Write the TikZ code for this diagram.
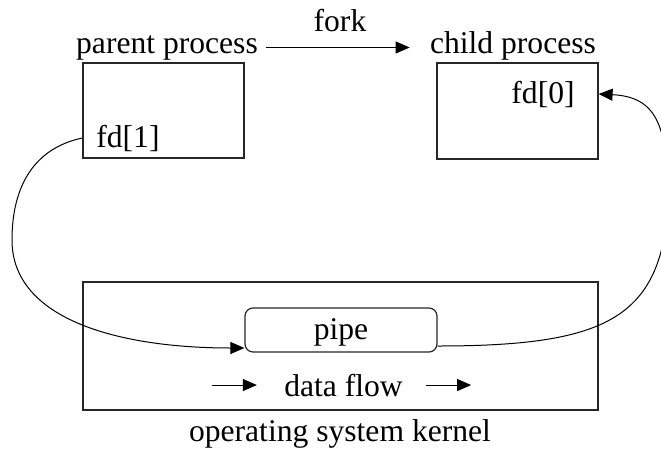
\documentclass[tikz,border=0pt]{standalone}
\usepackage{fontspec}
\setmainfont{Liberation Serif}
\usetikzlibrary{arrows.meta}
\begin{document}
\begin{tikzpicture}[x=0.5pt,y=-0.5pt,
  font=\fontsize{15.8}{18}\selectfont,
  box/.style={draw=black!85, line width=0.6pt, inner sep=0pt},
  lbl/.style={anchor=base, inner sep=0pt},
  arr/.style={-{Triangle[length=7pt,width=6pt]}, line width=0.5pt}]
\useasboundingbox (0,0) rectangle (661,452);

% process boxes and the kernel
\node[box, minimum width=80.5pt, minimum height=47.5pt] (pbox) at (163.5,110.5) {};
\node[box, minimum width=80.5pt, minimum height=48pt] (cbox) at (517.5,111) {};
\node[box, minimum width=257.5pt, minimum height=64pt] (kbox) at (340.5,346) {};
\node[box, rounded corners=4pt, minimum width=96pt, minimum height=22pt] (pipe) at (341,330) {};

% labels
\node[lbl] (ptext) at (167,53) {parent process};
\node[lbl] (ctext) at (513,53) {child process};
\node[lbl] (fork) at (340,31) {fork};
\node[lbl, anchor=base west] (fd1) at (96,147) {fd[1]};
\node[lbl, anchor=base east] (fd0) at (575,103) {fd[0]};
\node[lbl] (pipetxt) at (341,339) {pipe};
\node[lbl] (flow) at (343.5,396) {data flow};
\node[lbl] (os) at (340,441) {operating system kernel};

% fork arrow
\draw[arr] ([xshift=4pt]ptext.east) -- ([xshift=-10pt]ctext.west |- ptext.east);

% data flow arrows
\draw[arr] ([xshift=-36pt]flow.west) -- ([xshift=-13.5pt]flow.west);
\draw[arr] ([xshift=11.5pt]flow.east) -- ([xshift=34pt]flow.east);

% write end into the pipe
\draw[arr] (pbox.west |- fd1.center)
  .. controls (35,148) and (12,185) .. (12,240)
  .. controls (12,320) and (120,348) .. ([yshift=-9pt]pipe.west);

% read end out of the pipe
\draw[arr] ([yshift=-8pt]pipe.east)
  .. controls (600,346) and (655,320) .. (667,220)
  .. controls (670,130) and (660,97) .. (cbox.east |- fd0.center);
\end{tikzpicture}
\end{document}
